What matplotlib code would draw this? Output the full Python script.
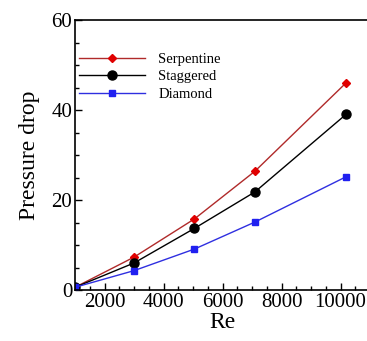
import matplotlib
matplotlib.use("Agg")
import matplotlib.pyplot as plt
from matplotlib.ticker import MultipleLocator

re_vals = [1000, 3000, 5050, 7100, 10200]
serpentine = [0.6, 7.3, 15.8, 26.4, 46.1]
staggered = [0.6, 6.0, 13.7, 21.8, 39.1]
diamond = [0.6, 4.3, 9.1, 15.1, 25.2]
labels = ["Serpentine", "Staggered", "Diamond"]

plt.rcParams['font.family'] = ['Liberation Serif', 'DejaVu Serif']

fig = plt.figure(figsize=(3.67, 3.41), dpi=100)
ax = fig.add_axes([75/367, 1 - 290/341, (370-75)/367, (290-20)/341])

ax.plot(re_vals, serpentine, color='#b02a2a', lw=1.0, marker='D', ms=4.5,
        mfc='#e00000', mec='#e00000', label=labels[0])
ax.plot(re_vals, staggered, color='black', lw=1.0, marker='o', ms=6.5,
        mfc='black', mec='black', label=labels[1])
ax.plot(re_vals, diamond, color='#2f2fe0', lw=1.0, marker='s', ms=4,
        mfc='#2020f0', mec='#2020f0', label=labels[2])

ax.set_xlim(1000, 11000)
ax.set_ylim(0, 60)
ax.xaxis.set_major_locator(MultipleLocator(2000))
ax.xaxis.set_minor_locator(MultipleLocator(500))
ax.yaxis.set_major_locator(MultipleLocator(20))
ax.yaxis.set_minor_locator(MultipleLocator(5))
ax.tick_params(which='both', direction='in', labelsize=15, top=False, right=False)
ax.tick_params(which='major', length=5, width=1)
ax.tick_params(which='minor', length=3, width=1)
ax.tick_params(axis='x', pad=2)
ax.tick_params(axis='y', pad=2)
xt = ax.get_xticks()
ax.set_xticks([t for t in xt if 2000 <= t <= 10000])

ax.set_xlabel("Re", fontsize=17, labelpad=0)
ax.set_ylabel("Pressure drop", fontsize=17, labelpad=8)
for s in ax.spines.values():
    s.set_linewidth(1.2)

ax.legend(loc='upper left', bbox_to_anchor=(0.0, 0.896), frameon=False,
          fontsize=10.5, handlelength=4.5, handletextpad=0.9,
          labelspacing=0.3, borderaxespad=0.2, borderpad=0.1)

fig.savefig("out.png", dpi=100)
